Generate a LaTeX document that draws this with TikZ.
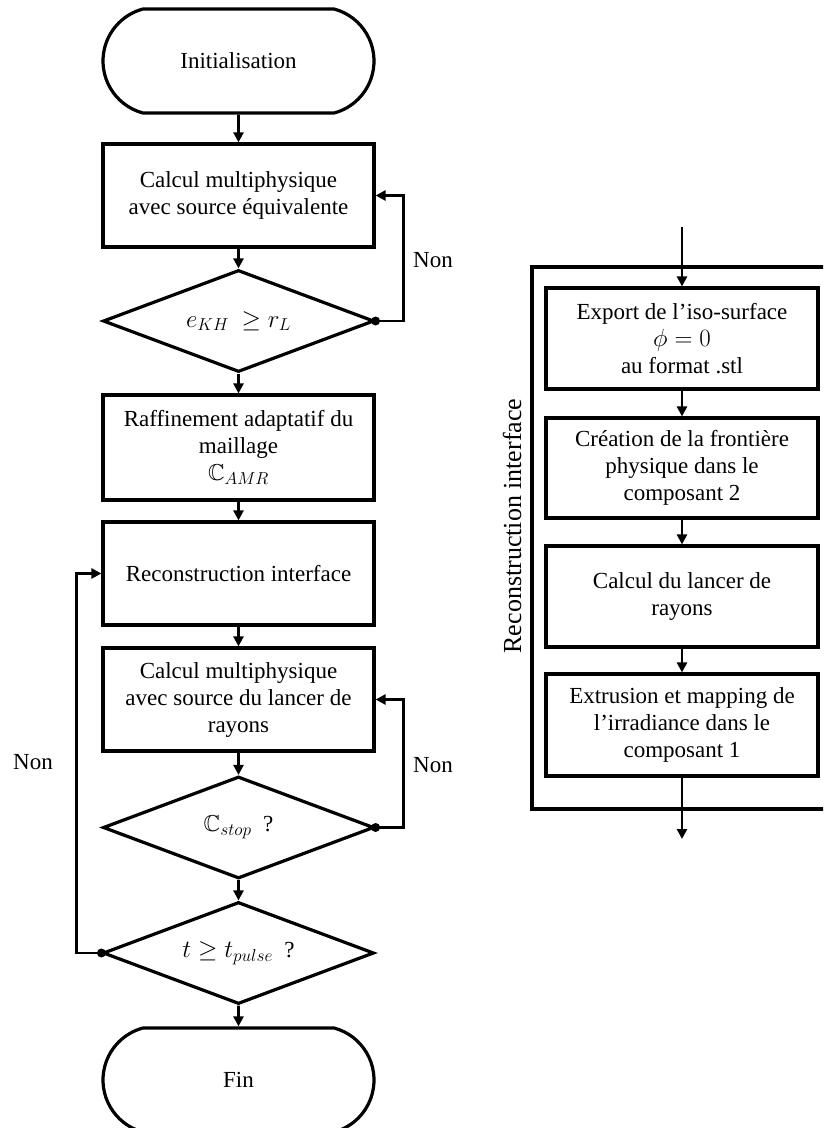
\documentclass[tikz,border=0pt]{standalone}
\usepackage{amssymb}
\usepackage{fontspec}
\setmainfont{Liberation Serif}
\usetikzlibrary{shapes.geometric,shapes.misc,arrows.meta}
\begin{document}
\begin{tikzpicture}[x=1pt,y=-1pt,
  every node/.style={font=\fontsize{23}{27}\selectfont},
  box/.style={draw, line width=3.2pt, minimum width=271pt, align=center, inner sep=0pt},
  terminal/.style={draw, line width=3.2pt, rounded rectangle, rounded rectangle arc length=150,
                   minimum width=271pt, minimum height=104pt, inner sep=0pt},
  decision/.style={draw, line width=3.2pt, diamond, aspect=2.6, minimum width=271pt,
                   minimum height=102pt, inner sep=0pt},
  conn/.style={line width=2.7pt, -{Triangle[length=10pt,width=10pt]}},
  lbl/.style={inner sep=0pt}
]
\clip (0,0) rectangle (823,1128);
\useasboundingbox (0,0) rectangle (823,1128);

% left column
\node[terminal] (init) at (238.5,61) {Initialisation};
\node[box, minimum height=103pt] (box1) at (238.5,195.5) {Calcul multiphysique\\avec source équivalente};
\node[decision] (d1) at (238.5,321) {$e_{KH}\ \geq r_L$};
\node[box, minimum height=105pt] (raff) at (238.5,447.5) {Raffinement adaptatif du\\maillage\\$\mathbb{C}_{AMR}$};
\node[box, minimum height=103pt] (recon) at (238.5,573.5) {Reconstruction interface};
\node[box, minimum height=103pt] (calc2) at (238.5,699.5) {Calcul multiphysique\\avec source du lancer de\\rayons};
\node[decision] (d2) at (238.5,827.5) {$\mathbb{C}_{stop}$\ \ ?};
\node[decision] (d3) at (238.5,953) {$t \geq t_{pulse}$\ \ ?};
\node[terminal] (fin) at (238.5,1080) {Fin};

\draw[conn] (init) -- (box1);
\draw[conn] (box1) -- (d1);
\draw[conn] (d1) -- (raff);
\draw[conn] (raff) -- (recon);
\draw[conn] (recon) -- (calc2);
\draw[conn] (calc2) -- (d2);
\draw[conn] (d2) -- (d3);
\draw[conn] (d3) -- (fin);

\draw[conn] (d1.east) -- ++(28,0) |- (box1.east);
\fill (d1.east) circle (4.5pt);
\draw[conn] (d2.east) -- ++(28,0) |- (calc2.east);
\fill (d2.east) circle (4.5pt);
\draw[conn] (d3.west) -- ++(-25,0) |- (recon.west);
\fill (d3.west) circle (4.5pt);

\node[lbl] (non1) at (433,260) {Non};
\node[lbl] (non2) at (433,765) {Non};
\node[lbl] (non3) at (33,762) {Non};

% right column
\draw[line width=3.2pt] (532,267) rectangle (845,809);
\node[lbl, rotate=90, font=\fontsize{26}{30}\selectfont] (rlabel) at (512,526) {Reconstruction interface};

\node[box, minimum width=272pt, minimum height=101pt] (exp) at (682,338.5) {Export de l’iso-surface\\$\phi = 0$\\au format .stl};
\node[box, minimum width=272pt, minimum height=100pt] (crea) at (682,468) {Création de la frontière\\physique dans le\\composant 2};
\node[box, minimum width=272pt, minimum height=101pt] (ray) at (682,596.5) {Calcul du lancer de\\rayons};
\node[box, minimum width=272pt, minimum height=102pt] (ext) at (682,725) {Extrusion et mapping de\\l’irradiance dans le\\composant 1};

\coordinate (rtop) at (682,227);
\coordinate (rbot) at (682,839);
\draw[conn] (rtop) -- (exp);
\draw[conn] (exp) -- (crea);
\draw[conn] (crea) -- (ray);
\draw[conn] (ray) -- (ext);
\draw[conn] (ext) -- (rbot);
\end{tikzpicture}
\end{document}
